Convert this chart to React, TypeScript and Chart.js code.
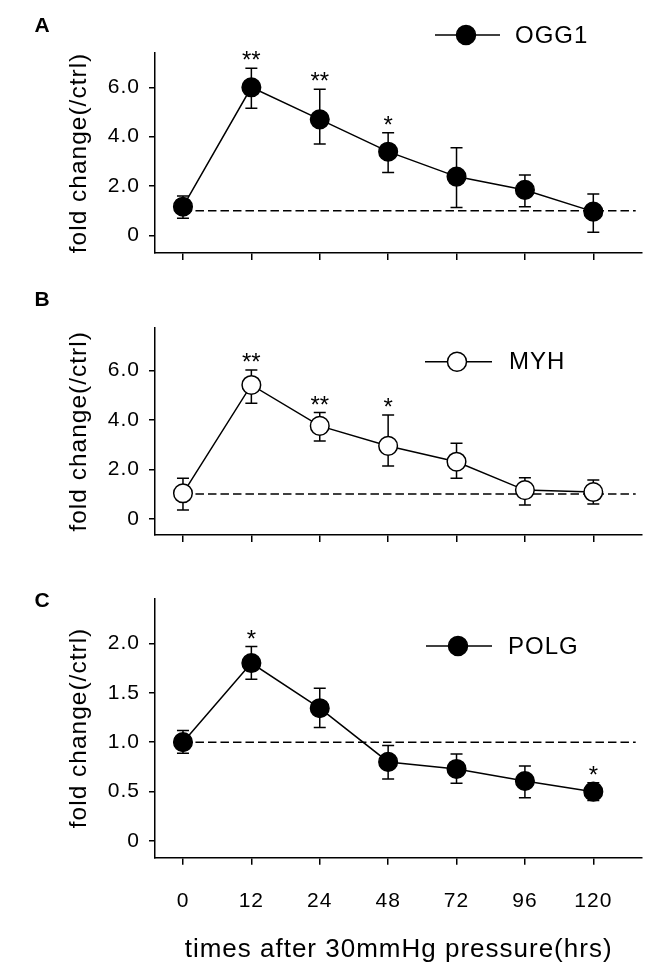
import React, { useEffect, useRef } from 'react';
import { Chart, registerables } from 'chart.js';

Chart.register(...registerables);

// ---------- data ----------
const timeLabels = ['0', '12', '24', '48', '72', '96', '120'];

const ogg1Mean = [1.16, 6.0, 4.7, 3.39, 2.38, 1.84, 0.96];
const ogg1Upper = [1.59, 6.77, 5.92, 4.16, 3.55, 2.44, 1.67];
const ogg1Lower = [0.69, 5.15, 3.7, 2.55, 1.13, 1.16, 0.12];
const ogg1Stars = ['', '**', '**', '*', '', '', ''];

const myhMean = [1.03, 5.42, 3.76, 2.95, 2.31, 1.16, 1.08];
const myhUpper = [1.64, 6.03, 4.3, 4.2, 3.06, 1.66, 1.57];
const myhLower = [0.35, 4.68, 3.15, 2.14, 1.64, 0.56, 0.6];
const myhStars = ['', '**', '**', '*', '', '', ''];

const polgMean = [1.0, 1.8, 1.343, 0.8, 0.729, 0.607, 0.499];
const polgUpper = [1.117, 1.967, 1.546, 0.965, 0.88, 0.759, 0.589];
const polgLower = [0.888, 1.637, 1.147, 0.628, 0.584, 0.438, 0.409];
const polgStars = ['', '*', '', '', '', '', '*'];

const yTicksAB = [0, 2, 4, 6];
const yTickLabelsAB = ['0', '2.0', '4.0', '6.0'];
const yTicksC = [0, 0.5, 1, 1.5, 2];
const yTickLabelsC = ['0', '0.5', '1.0', '1.5', '2.0'];

const controlLevel = 1;
const yTitle = 'fold change(/ctrl)';
const xTitle = 'times after 30mmHg pressure(hrs)';

const FONT = '"Liberation Sans", Arial, Helvetica, sans-serif';

type PanelCfg = {
  letter: string;
  name: string;
  mean: number[];
  upper: number[];
  lower: number[];
  stars: string[];
  filled: boolean;
  yTicks: number[];
  yTickLabels: string[];
  yMin: number;
  yMax: number;
  top: number;
  height: number;
  chartTop: number;
  chartBottom: number;
  showX: boolean;
  legend: { x1: number; x2: number; mx: number; tx: number; y: number };
  letterY: number;
};

const panels: PanelCfg[] = [
  {
    letter: 'A', name: 'OGG1', mean: ogg1Mean, upper: ogg1Upper, lower: ogg1Lower, stars: ogg1Stars,
    filled: true, yTicks: yTicksAB, yTickLabels: yTickLabelsAB, yMin: -0.717, yMax: 7.39,
    top: 0, height: 275, chartTop: 53, chartBottom: 253, showX: false,
    legend: { x1: 435, x2: 500, mx: 466, tx: 515, y: 35 }, letterY: 31.5,
  },
  {
    letter: 'B', name: 'MYH', mean: myhMean, upper: myhUpper, lower: myhLower, stars: myhStars,
    filled: false, yTicks: yTicksAB, yTickLabels: yTickLabelsAB, yMin: -0.66, yMax: 7.74,
    top: 275, height: 290, chartTop: 52.7, chartBottom: 260, showX: false,
    legend: { x1: 425, x2: 492, mx: 457, tx: 509, y: 86.7 }, letterY: 31,
  },
  {
    letter: 'C', name: 'POLG', mean: polgMean, upper: polgUpper, lower: polgLower, stars: polgStars,
    filled: true, yTicks: yTicksC, yTickLabels: yTickLabelsC, yMin: -0.169, yMax: 2.455,
    top: 565, height: 412, chartTop: 33.3, chartBottom: 292.7, showX: true,
    legend: { x1: 426, x2: 492, mx: 458, tx: 508, y: 81 }, letterY: 42,
  },
];

const setSpacing = (ctx: any, v: string) => {
  try { ctx.letterSpacing = v; } catch (e) { /* ignore */ }
};

const extrasPlugin = {
  id: 'extras',
  beforeDraw(chart: any) {
    setSpacing(chart.ctx, '1px');
  },
  beforeDatasetsDraw(chart: any, _args: any, opts: any) {
    const { ctx, scales } = chart;
    const x = scales.x, y = scales.y;
    ctx.save();
    ctx.strokeStyle = '#000';
    ctx.lineWidth = 1.5;
    opts.mean.forEach((_m: number, i: number) => {
      const px = x.getPixelForValue(i);
      const t = y.getPixelForValue(opts.upper[i]);
      const b = y.getPixelForValue(opts.lower[i]);
      ctx.beginPath();
      ctx.moveTo(px, t); ctx.lineTo(px, b);
      ctx.moveTo(px - 6, t); ctx.lineTo(px + 6, t);
      ctx.moveTo(px - 6, b); ctx.lineTo(px + 6, b);
      ctx.stroke();
    });
    ctx.restore();
  },
  afterDatasetsDraw(chart: any, _args: any, opts: any) {
    const { ctx, scales } = chart;
    const x = scales.x, y = scales.y;
    ctx.save();
    setSpacing(ctx, '0px');
    // significance stars
    ctx.fillStyle = '#000';
    ctx.font = `24px ${FONT}`;
    ctx.textAlign = 'center';
    ctx.textBaseline = 'alphabetic';
    opts.stars.forEach((s: string, i: number) => {
      if (!s) return;
      const px = x.getPixelForValue(i);
      const t = y.getPixelForValue(opts.upper[i]);
      ctx.fillText(s, px, t);
    });
    // legend
    const lg = opts.legend;
    ctx.strokeStyle = '#000';
    ctx.lineWidth = 1.5;
    ctx.beginPath();
    ctx.moveTo(lg.x1, lg.y); ctx.lineTo(lg.x2, lg.y);
    ctx.stroke();
    ctx.beginPath();
    ctx.arc(lg.mx, lg.y, 9.5, 0, Math.PI * 2);
    ctx.fillStyle = opts.filled ? '#000' : '#fff';
    ctx.fill();
    ctx.stroke();
    ctx.fillStyle = '#000';
    ctx.textAlign = 'left';
    ctx.textBaseline = 'middle';
    ctx.font = `24px ${FONT}`;
    setSpacing(ctx, '1px');
    ctx.fillText(opts.name, lg.tx, lg.y + 1);
    setSpacing(ctx, '0px');
    // panel letter
    ctx.font = `bold 21px ${FONT}`;
    ctx.textBaseline = 'alphabetic';
    ctx.fillText(opts.letter, 34.5, opts.letterY);
    ctx.restore();
  },
  afterDraw(chart: any) {
    setSpacing(chart.ctx, '0px');
  },
};

function Panel({ cfg }: { cfg: PanelCfg }) {
  const ref = useRef<HTMLCanvasElement>(null);
  useEffect(() => {
    if (!ref.current) return;
    const xH = cfg.height - cfg.chartBottom;
    const chart = new Chart(ref.current, {
      type: 'line',
      data: {
        datasets: [
          {
            data: cfg.mean.map((v, i) => ({ x: i, y: v })),
            borderColor: '#000',
            borderWidth: 1.5,
            pointRadius: 9.3,
            pointHoverRadius: 9.3,
            pointBackgroundColor: cfg.filled ? '#000' : '#fff',
            pointBorderColor: '#000',
            pointBorderWidth: 1.5,
            tension: 0,
            order: 1,
          },
          {
            data: [{ x: 0, y: controlLevel }, { x: 6.62, y: controlLevel }],
            borderColor: '#000',
            borderWidth: 1.5,
            borderDash: [8.5, 4],
            pointRadius: 0,
            order: 2,
          },
        ],
      },
      options: {
        responsive: false,
        animation: false,
        events: [],
        layout: { padding: { top: cfg.chartTop, right: 10, left: 0, bottom: 0 } },
        plugins: {
          legend: { display: false },
          tooltip: { enabled: false },
          extras: {
            mean: cfg.mean, upper: cfg.upper, lower: cfg.lower, stars: cfg.stars,
            legend: cfg.legend, filled: cfg.filled, name: cfg.name, letter: cfg.letter, letterY: cfg.letterY,
          },
        } as any,
        scales: {
          x: {
            type: 'linear',
            min: -0.409,
            max: 6.715,
            bounds: 'data',
            afterFit: (s: any) => { s.height = xH; },
            afterBuildTicks: (s: any) => { s.ticks = timeLabels.map((_, i) => ({ value: i })); },
            ticks: {
              display: cfg.showX,
              autoSkip: false,
              maxRotation: 0,
              padding: 23.7,
              color: '#000',
              font: { family: FONT, size: 21 },
              callback: (v: any) => timeLabels[Math.round(Number(v))],
            },
            grid: { drawOnChartArea: false, drawTicks: true, tickLength: 7, color: '#000', lineWidth: 1.5 },
            border: { display: true, color: '#000', width: 1.5 },
            title: {
              display: cfg.showX,
              text: xTitle,
              color: '#000',
              font: { family: FONT, size: 26 },
              padding: { top: 0, bottom: 11.4 },
            },
          },
          y: {
            type: 'linear',
            min: cfg.yMin,
            max: cfg.yMax,
            bounds: 'data',
            afterFit: (s: any) => { s.width = 155; },
            afterBuildTicks: (s: any) => { s.ticks = cfg.yTicks.map((v) => ({ value: v })); },
            ticks: {
              autoSkip: false,
              padding: 9,
              color: '#000',
              font: { family: FONT, size: 21 },
              callback: (_v: any, i: number) => cfg.yTickLabels[i],
            },
            grid: { drawOnChartArea: false, drawTicks: true, tickLength: 6, color: '#000', lineWidth: 1.5 },
            border: { display: true, color: '#000', width: 1.5 },
            title: {
              display: true,
              text: yTitle,
              color: '#000',
              font: { family: FONT, size: 24.5 },
              padding: { top: 64.8, bottom: 0 },
            },
          },
        },
      },
      plugins: [extrasPlugin as any],
    });
    return () => chart.destroy();
  }, [cfg]);
  return (
    <canvas
      ref={ref}
      width={653}
      height={cfg.height}
      style={{ position: 'absolute', left: 0, top: cfg.top, width: 653, height: cfg.height }}
    />
  );
}

export default function App() {
  return (
    <div style={{ position: 'absolute', left: 0, top: 0, width: 653, height: 977, background: '#fff' }}>
      {panels.map((p) => (
        <Panel key={p.letter} cfg={p} />
      ))}
    </div>
  );
}
